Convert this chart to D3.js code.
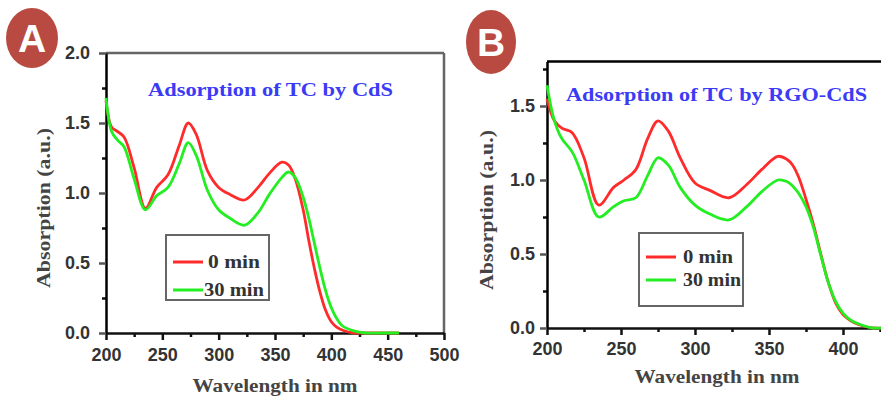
<!DOCTYPE html>
<html>
<head>
<meta charset="utf-8">
<script src="https://cdn.jsdelivr.net/npm/d3@7"></script>
<style>
    body { margin: 0; background: #fff; }
    svg { display: block; }
    .tick text { font-family: "Liberation Sans", Arial, sans-serif; font-weight: bold; fill: #333; }
</style>
</head>
<body>
<svg id="chart" width="881" height="401"></svg>
<script>
// panel A: adsorption of TC by CdS
const wavelengthsA = [200, 205, 210, 216, 225, 235, 245, 255, 265, 273, 280, 290, 300, 310, 323, 335, 345, 356, 362, 368, 375, 380, 385, 390, 395, 400, 405, 410, 420, 430, 445, 460];
const absA0 = [1.66, 1.47, 1.44, 1.40, 1.18, 0.89, 1.04, 1.13, 1.34, 1.50, 1.42, 1.16, 1.04, 0.99, 0.95, 1.04, 1.14, 1.22, 1.20, 1.10, 0.88, 0.66, 0.46, 0.29, 0.16, 0.08, 0.04, 0.02, 0.0, 0.0, 0.0, 0.0];
const absA30 = [1.68, 1.44, 1.38, 1.33, 1.10, 0.88, 0.98, 1.04, 1.21, 1.36, 1.27, 1.02, 0.88, 0.82, 0.77, 0.86, 0.99, 1.11, 1.15, 1.11, 0.97, 0.82, 0.64, 0.46, 0.30, 0.18, 0.10, 0.05, 0.015, 0.0, 0.0, 0.0];
const xTicksA = [200, 250, 300, 350, 400, 450, 500];
const yTicksA = [0.0, 0.5, 1.0, 1.5, 2.0];

// panel B: adsorption of TC by RGO-CdS
const wavelengthsB = [200, 205, 210, 217, 225, 235, 245, 252, 260, 268, 275, 282, 290, 300, 310, 323, 335, 345, 356, 362, 366, 370, 375, 380, 385, 390, 395, 400, 405, 410, 415, 420, 430, 450];
const absB0 = [1.55, 1.40, 1.35, 1.32, 1.15, 0.83, 0.95, 1.00, 1.07, 1.28, 1.40, 1.33, 1.15, 0.98, 0.93, 0.88, 0.97, 1.07, 1.16, 1.14, 1.10, 1.02, 0.87, 0.70, 0.50, 0.31, 0.17, 0.09, 0.05, 0.025, 0.01, 0.0, 0.0, 0.0];
const absB30 = [1.64, 1.40, 1.28, 1.19, 1.00, 0.75, 0.82, 0.86, 0.88, 1.03, 1.15, 1.10, 0.95, 0.83, 0.77, 0.73, 0.82, 0.92, 1.00, 0.99, 0.96, 0.91, 0.82, 0.68, 0.49, 0.31, 0.18, 0.10, 0.055, 0.03, 0.012, 0.0, 0.0, 0.0];
const xTicksB = [200, 250, 300, 350, 400];
const yTicksB = [0.0, 0.5, 1.0, 1.5];

const seriesNames = ["0 min", "30 min"];
const seriesColors = ["#ff2b2b", "#22ee22"];

const svg = d3.select("#chart");

function drawPanel(p) {
    let x = d3.scaleLinear().domain(p.xDomain).range([p.left, p.right]);
    let y = d3.scaleLinear().domain(p.yDomain).range([p.bottom, p.top]);
    let g = svg.append("g");

    // frame top / right
    g.append("line")
        .attr("x1", p.left).attr("x2", p.right)
        .attr("y1", p.top).attr("y2", p.top)
        .attr("stroke", p.frameColor).attr("stroke-width", 2.5);
    g.append("line")
        .attr("x1", p.right).attr("x2", p.right)
        .attr("y1", p.top).attr("y2", p.bottom)
        .attr("stroke", p.frameColor).attr("stroke-width", 2.5);

    // minor ticks
    let xMinor = d3.range(p.xDomain[0] + 25, p.xDomain[1], 50);
    let yMinor = d3.range(0.25, p.yDomain[1], 0.5);
    g.append("g")
        .attr("transform", "translate(0," + p.bottom + ")")
        .call(d3.axisBottom(x).tickValues(xMinor).tickSize(4).tickFormat(""))
        .call(a => a.select(".domain").remove())
        .selectAll("line").attr("stroke", "#111").attr("stroke-width", 2.5);
    g.append("g")
        .attr("transform", "translate(" + p.left + ",0)")
        .call(d3.axisLeft(y).tickValues(yMinor).tickSize(4).tickFormat(""))
        .call(a => a.select(".domain").remove())
        .selectAll("line").attr("stroke", "#111").attr("stroke-width", 2.5);

    // major axes
    let xAxis = g.append("g")
        .attr("transform", "translate(0," + p.bottom + ")")
        .call(d3.axisBottom(x).tickValues(p.xTicks).tickSize(7).tickSizeOuter(0).tickPadding(p.xPad).tickFormat(d3.format("d")));
    xAxis.select(".domain").attr("stroke", "#111").attr("stroke-width", 2.5);
    xAxis.selectAll(".tick line").attr("stroke", "#111").attr("stroke-width", 2.5);
    xAxis.selectAll(".tick text").style("font-size", "18px");

    let yAxis = g.append("g")
        .attr("transform", "translate(" + p.left + ",0)")
        .call(d3.axisLeft(y).tickValues(p.yTicks).tickSize(7).tickSizeOuter(0).tickPadding(p.yPad).tickFormat(d3.format(".1f")));
    yAxis.select(".domain").attr("stroke", "#000").attr("stroke-width", 2.5);
    yAxis.selectAll(".tick line").attr("stroke", "#555").attr("stroke-width", 2.5);
    yAxis.selectAll(".tick text").style("font-size", "18px");

    // curves
    let line = d3.line()
        .x(d => x(d[0]))
        .y(d => y(d[1]))
        .curve(d3.curveCatmullRom.alpha(0.5));
    p.series.forEach(function (vals, i) {
        g.append("path")
            .datum(p.wavelengths.map((w, j) => [w, vals[j]]))
            .attr("fill", "none")
            .attr("stroke", seriesColors[i])
            .attr("stroke-width", 2.8)
            .attr("stroke-linejoin", "round")
            .attr("d", line);
    });

    // inner title
    g.append("text")
        .attr("x", p.titleX).attr("y", p.titleY)
        .attr("textLength", p.titleLen).attr("lengthAdjust", "spacingAndGlyphs")
        .style("font-family", "'Liberation Serif', 'Times New Roman', serif")
        .style("font-weight", "bold").style("font-size", "19px")
        .attr("fill", "#3b3bf5")
        .text(p.title);

    // legend
    let lg = g.append("g").attr("transform", "translate(" + p.legend[0] + "," + p.legend[1] + ")");
    lg.append("rect")
        .attr("width", p.legend[2]).attr("height", p.legend[3])
        .attr("fill", "#fff").attr("stroke", "#666").attr("stroke-width", 2);
    seriesNames.forEach(function (name, i) {
        let ly = p.legendRows[i];
        lg.append("line")
            .attr("x1", 7).attr("x2", 37)
            .attr("y1", ly).attr("y2", ly)
            .attr("stroke", seriesColors[i]).attr("stroke-width", 3);
        lg.append("text")
            .attr("x", p.legendText[i]).attr("y", ly + 6)
            .attr("textLength", p.legendLen[i]).attr("lengthAdjust", "spacingAndGlyphs")
            .style("font-family", "'Liberation Serif', 'Times New Roman', serif")
            .style("font-weight", "bold").style("font-size", "19px")
            .attr("fill", "#333")
            .text(name);
    });

    // axis titles
    g.append("text")
        .attr("x", p.xTitle[0]).attr("y", p.xTitle[1])
        .attr("text-anchor", "middle")
        .attr("textLength", 165).attr("lengthAdjust", "spacingAndGlyphs")
        .style("font-family", "'Liberation Serif', 'Times New Roman', serif")
        .style("font-weight", "bold").style("font-size", "19px")
        .attr("fill", "#444")
        .text("Wavelength in nm");
    g.append("text")
        .attr("transform", "translate(" + p.yTitle[0] + "," + p.yTitle[1] + ") rotate(-90)")
        .attr("text-anchor", "middle")
        .attr("textLength", 160).attr("lengthAdjust", "spacingAndGlyphs")
        .style("font-family", "'Liberation Serif', 'Times New Roman', serif")
        .style("font-weight", "bold").style("font-size", "18px")
        .attr("fill", "#444")
        .text("Absorption (a.u.)");

    // panel badge
    g.append("ellipse")
        .attr("cx", p.badge[0]).attr("cy", p.badge[1])
        .attr("rx", p.badge[2]).attr("ry", p.badge[3])
        .attr("fill", "#b94a42");
    g.append("text")
        .attr("x", p.badge[0]).attr("y", p.badge[1] + 14)
        .attr("text-anchor", "middle")
        .style("font-family", "'Liberation Sans', Arial, sans-serif")
        .style("font-weight", "bold").style("font-size", "39px")
        .attr("fill", "#fff")
        .text(p.label);
}

drawPanel({
    label: "A", badge: [32, 38, 26, 30],
    left: 106, right: 444, top: 53, bottom: 333,
    xDomain: [200, 500], yDomain: [0, 2],
    xTicks: xTicksA, yTicks: yTicksA, xPad: 8, yPad: 9,
    wavelengths: wavelengthsA, series: [absA0, absA30],
    frameColor: "#666",
    title: "Adsorption of TC by CdS", titleX: 148, titleY: 96, titleLen: 245,
    legend: [166, 235, 103, 65], legendRows: [27, 55], legendText: [42, 38], legendLen: [52, 60],
    xTitle: [275, 392], yTitle: [50, 208]
});

drawPanel({
    label: "B", badge: [491, 42, 25, 32],
    left: 547, right: 917, top: 61.6, bottom: 328,
    xDomain: [200, 450], yDomain: [0, 1.8],
    xTicks: xTicksB, yTicks: yTicksB, xPad: 7, yPad: 5,
    wavelengths: wavelengthsB, series: [absB0, absB30],
    frameColor: "#000",
    title: "Adsorption of TC by RGO-CdS", titleX: 566, titleY: 101, titleLen: 301,
    legend: [639, 233, 104, 73], legendRows: [24, 47], legendText: [44, 44], legendLen: [50, 58],
    xTitle: [717, 383], yTitle: [493, 210]
});
</script>
</body>
</html>
